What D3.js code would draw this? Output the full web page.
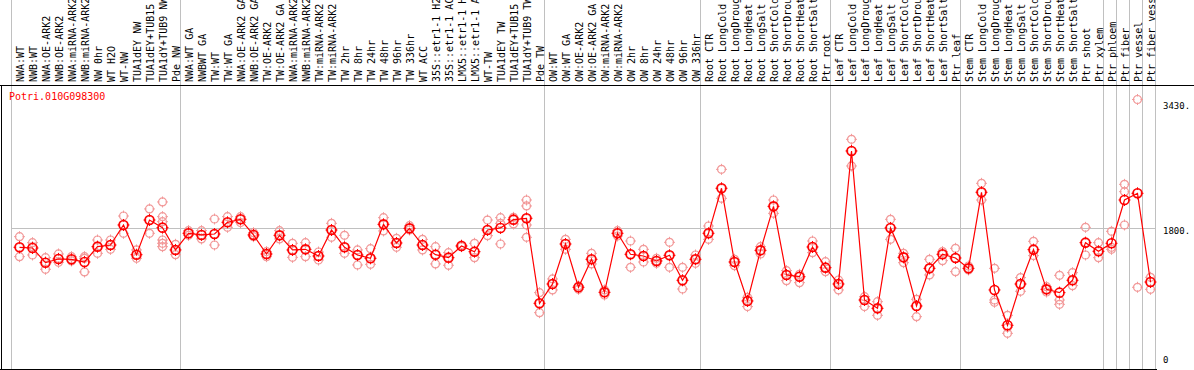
<!DOCTYPE html>
<html>
<head>
<meta charset="utf-8">
<script src="https://cdn.jsdelivr.net/npm/d3@7"></script>
<style>
  body { margin: 0; background: #fff; }
  text { font-family: "DejaVu Sans Mono", monospace; }
</style>
</head>
<body>
<script>
const width = 1194
const height = 370

// Sample labels (truncated to 14 chars as in the original)
const samples = [
  "NWA:WT", "NWB:WT", "NWA:OE-ARK2", "NWB:OE-ARK2", "NWA:miRNA-ARK2", "NWB:miRNA-ARK2",
  "NW 0hr", "WT H2O", "WT-NW", "TUA1dEY NW", "TUA1dEY+TUB15", "TUA1dY+TUB9 NW", "Pde NW",
  "NWA:WT GA", "NWBWT GA", "TW:WT", "TW:WT GA", "NWA:OE-ARK2 GA", "NWB:OE-ARK2 GA",
  "TW:OE-ARK2", "TW:OE-ARK2 GA", "NWA:miRNA-ARK2", "NWB:miRNA-ARK2", "TW:miRNA-ARK2", "TW:miRNA-ARK2",
  "TW 2hr", "TW 8hr", "TW 24hr", "TW 48hr", "TW 96hr", "TW 336hr", "WT ACC",
  "35S::etr1-1 H2", "35S::etr1-1 AC", "LMX5::etr1-1 H", "LMX5::etr1-1 A", "WT-TW",
  "TUA1dEY TW", "TUA1dEY+TUB15", "TUA1dY+TUB9 TW", "Pde TW",
  "OW:WT", "OW:WT GA", "OW:OE-ARK2", "OW:OE-ARK2 GA", "OW:miRNA-ARK2", "OW:miRNA-ARK2",
  "OW 2hr", "OW 8hr", "OW 24hr", "OW 48hr", "OW 96hr", "OW 336hr",
  "Root CTR", "Root LongCold", "Root LongDroug", "Root LongHeat", "Root LongSalt",
  "Root ShortCold", "Root ShortDrou", "Root ShortHeat", "Root ShortSalt", "Ptr root",
  "Leaf CTR", "Leaf LongCold", "Leaf LongDroug", "Leaf LongHeat", "Leaf LongSalt",
  "Leaf ShortCold", "Leaf ShortDrou", "Leaf ShortHeat", "Leaf ShortSalt", "Ptr leaf",
  "Stem CTR", "Stem LongCold", "Stem LongDroug", "Stem LongHeat", "Stem LongSalt",
  "Stem ShortCold", "Stem ShortDrou", "Stem ShortHeat", "Stem ShortSalt", "Ptr shoot",
  "Ptr xylem", "Ptr phloem", "Ptr fiber", "Ptr vessel", "Ptr fiber vess"
];

// mean expression per sample
const means = [
  1549, 1540, 1353, 1400, 1396, 1362, 1557, 1578, 1833, 1455, 1896, 1799, 1515,
  1727, 1706, 1718, 1867, 1905, 1706, 1464, 1701, 1515, 1523, 1438, 1769, 1549,
  1451, 1409, 1841, 1604, 1790, 1578, 1455, 1417, 1566, 1493, 1769, 1795, 1901, 1918,
  836, 1082, 1591, 1040, 1396, 976, 1727, 1460, 1438, 1375, 1447, 1129,
  1396, 1727, 2300, 1362, 866, 1510, 2070, 1197, 1175, 1553,
  1290, 1082, 2775, 878, 772, 1795, 1421, 802, 1281, 1460,
  1413, 1281, 2249, 1006, 556, 1082, 1519, 1014, 972, 1129, 1608,
  1498, 1600, 2151, 2236, 1107
];

// replicate values per sample
const replicates = [
  [1684, 1549, 1430], [1608, 1557, 1451], [1417, 1358, 1269], [1464, 1409, 1358],
  [1430, 1396, 1375], [1430, 1409, 1235], [1642, 1557, 1472], [1642, 1578, 1523],
  [1947, 1833, 1727], [1515, 1455, 1409], [2037, 1896, 1727],
  [2126, 1939, 1875, 1642, 1600, 1557], [1587, 1515, 1455],
  [1761, 1727, 1701], [1761, 1706, 1655], [1909, 1718, 1578], [1939, 1867, 1803],
  [1939, 1905, 1863], [1735, 1706, 1684], [1494, 1464, 1430], [1761, 1701, 1655],
  [1600, 1515, 1421], [1608, 1523, 1430], [1489, 1438, 1387], [1854, 1769, 1676],
  [1701, 1549, 1472], [1515, 1451, 1324], [1532, 1409, 1332], [1926, 1841, 1757],
  [1663, 1604, 1549], [1824, 1790, 1769], [1650, 1578, 1515], [1557, 1455, 1337],
  [1481, 1417, 1320], [1578, 1566, 1557], [1600, 1493, 1417], [1896, 1769, 1697],
  [1926, 1854, 1591], [1930, 1901, 1846], [2151, 2075, 1918, 1833, 1676],
  [972, 836, 717], [1146, 1082, 1006], [1650, 1591, 1523], [1057, 1040, 1014],
  [1472, 1396, 1337], [1006, 976, 942], [1761, 1727, 1693], [1629, 1460, 1294],
  [1523, 1438, 1362], [1409, 1375, 1345], [1612, 1447, 1294], [1294, 1129, 1018],
  [1451, 1396, 1345], [1820, 1727, 1650], [2541, 2300, 2172], [1396, 1362, 1315],
  [912, 866, 794], [1557, 1510, 1464], [2151, 2070, 1981], [1252, 1197, 1124],
  [1205, 1175, 1099], [1629, 1553, 1481],
  [1366, 1290, 1239], [1133, 1082, 1006], [2923, 2775, 2584], [921, 878, 794],
  [857, 772, 683], [1905, 1795, 1650], [1472, 1421, 1353], [887, 802, 666],
  [1396, 1281, 1197], [1494, 1460, 1379], [1536, 1413, 1239],
  [1311, 1281, 1260], [2363, 2249, 2151], [1281, 878, 849], [683, 530, 454],
  [1163, 1082, 989], [1625, 1519, 1443], [1048, 1014, 980], [1192, 878, 823],
  [1226, 1129, 1061], [1803, 1608, 1451], [1608, 1498, 1417],
  [1752, 1549, 1523], [2350, 2257, 1833], [3430, 2240, 1040], [1167, 1107, 1014]
];

// index of first sample in each group (grey separators)
const groupStarts = [0, 13, 41, 53, 63, 73, 84, 85, 86, 87, 88];

const yTicks = [0, 1800, 3430];
const geneId = "Potri.010G098300";

const headerBottom = 85;
const plotBottom = 369;
const plotRight = 1155;

const svg = d3.select("body").append("svg")
    .attr("width", width)
    .attr("height", height);

const x = d3.scaleBand()
    .domain(d3.range(samples.length))
    .range([11, plotRight]);

// sample position inside its band
const cx = i => x(i) + 8.5;

const y = d3.scaleLinear()
    .domain([0, 3430])
    .range([plotBottom, 99.5]);

// grey group separators, through header and plot
svg.selectAll("line.sep")
    .data(groupStarts)
    .enter().append("line")
    .attr("class", "sep")
    .attr("x1", d => d < samples.length ? x(d) : plotRight)
    .attr("x2", d => d < samples.length ? x(d) : plotRight)
    .attr("y1", 0)
    .attr("y2", plotBottom)
    .attr("stroke", "#c0c0c0")
    .attr("stroke-width", 1)
    .attr("shape-rendering", "crispEdges");

// grid line at middle tick
svg.append("line")
    .attr("x1", x(0)).attr("x2", plotRight)
    .attr("y1", Math.round(y(1800)) + 0.5).attr("y2", Math.round(y(1800)) + 0.5)
    .attr("stroke", "#c0c0c0");

// frame
svg.append("line")
    .attr("x1", 0).attr("x2", width)
    .attr("y1", headerBottom + 0.5).attr("y2", headerBottom + 0.5)
    .attr("stroke", "#000");
svg.append("line")
    .attr("x1", 1.5).attr("x2", 1.5)
    .attr("y1", headerBottom).attr("y2", plotBottom)
    .attr("stroke", "#000");
svg.append("line")
    .attr("x1", 0).attr("x2", plotRight + 2)
    .attr("y1", plotBottom + 0.5).attr("y2", plotBottom + 0.5)
    .attr("stroke", "#000");

// sample labels, rotated
svg.selectAll("text.sample")
    .data(samples)
    .enter().append("text")
    .attr("class", "sample")
    .attr("transform", (d, i) => `translate(${cx(i) + 0.5},${headerBottom - 3}) rotate(-90)`)
    .attr("dy", "0.35em")
    .attr("font-size", 10)
    .attr("fill", "#000")
    .text(d => d);

// right axis labels
svg.selectAll("text.tick")
    .data(yTicks)
    .enter().append("text")
    .attr("class", "tick")
    .attr("x", plotRight + 8)
    .attr("y", d => y(d) + (d === 0 ? -12 : d === 3430 ? 3 : 0))
    .attr("dominant-baseline", "hanging")
    .attr("font-size", 9)
    .attr("fill", "#000")
    .text(d => d === 0 ? "0" : d + ".");

// gene title
svg.append("text")
    .attr("x", 9)
    .attr("y", 100)
    .attr("font-size", 10)
    .attr("fill", "#f00")
    .text(geneId);

// marker with small ticks around it
function marker(g, r, color, sw) {
    g.append("circle")
        .attr("r", r)
        .attr("fill", "none")
        .attr("stroke", color)
        .attr("stroke-width", sw);
    [[0, -1], [0, 1], [-1, 0], [1, 0]].forEach(([dx, dy]) => {
        g.append("line")
            .attr("x1", dx * (r - 1)).attr("y1", dy * (r - 1))
            .attr("x2", dx * (r + 1.5)).attr("y2", dy * (r + 1.5))
            .attr("stroke", color)
            .attr("stroke-width", 1);
    });
}

// replicates
const reps = [];
replicates.forEach((vals, i) => vals.forEach(v => reps.push({ i: i, v: v })));

svg.selectAll("g.rep")
    .data(reps)
    .enter().append("g")
    .attr("class", "rep")
    .attr("transform", d => `translate(${cx(d.i)},${y(d.v)})`)
    .each(function() { marker(d3.select(this), 4, "#f29a9a", 1.2); });

// mean line
const line = d3.line()
    .x((d, i) => cx(i))
    .y(d => y(d));

svg.append("path")
    .datum(means)
    .attr("d", line)
    .attr("fill", "none")
    .attr("stroke", "#f00")
    .attr("stroke-width", 1.2);

svg.selectAll("g.mean")
    .data(means)
    .enter().append("g")
    .attr("class", "mean")
    .attr("transform", (d, i) => `translate(${cx(i)},${y(d)})`)
    .each(function() { marker(d3.select(this), 4.5, "#f00", 1.6); });
</script>
</body>
</html>
